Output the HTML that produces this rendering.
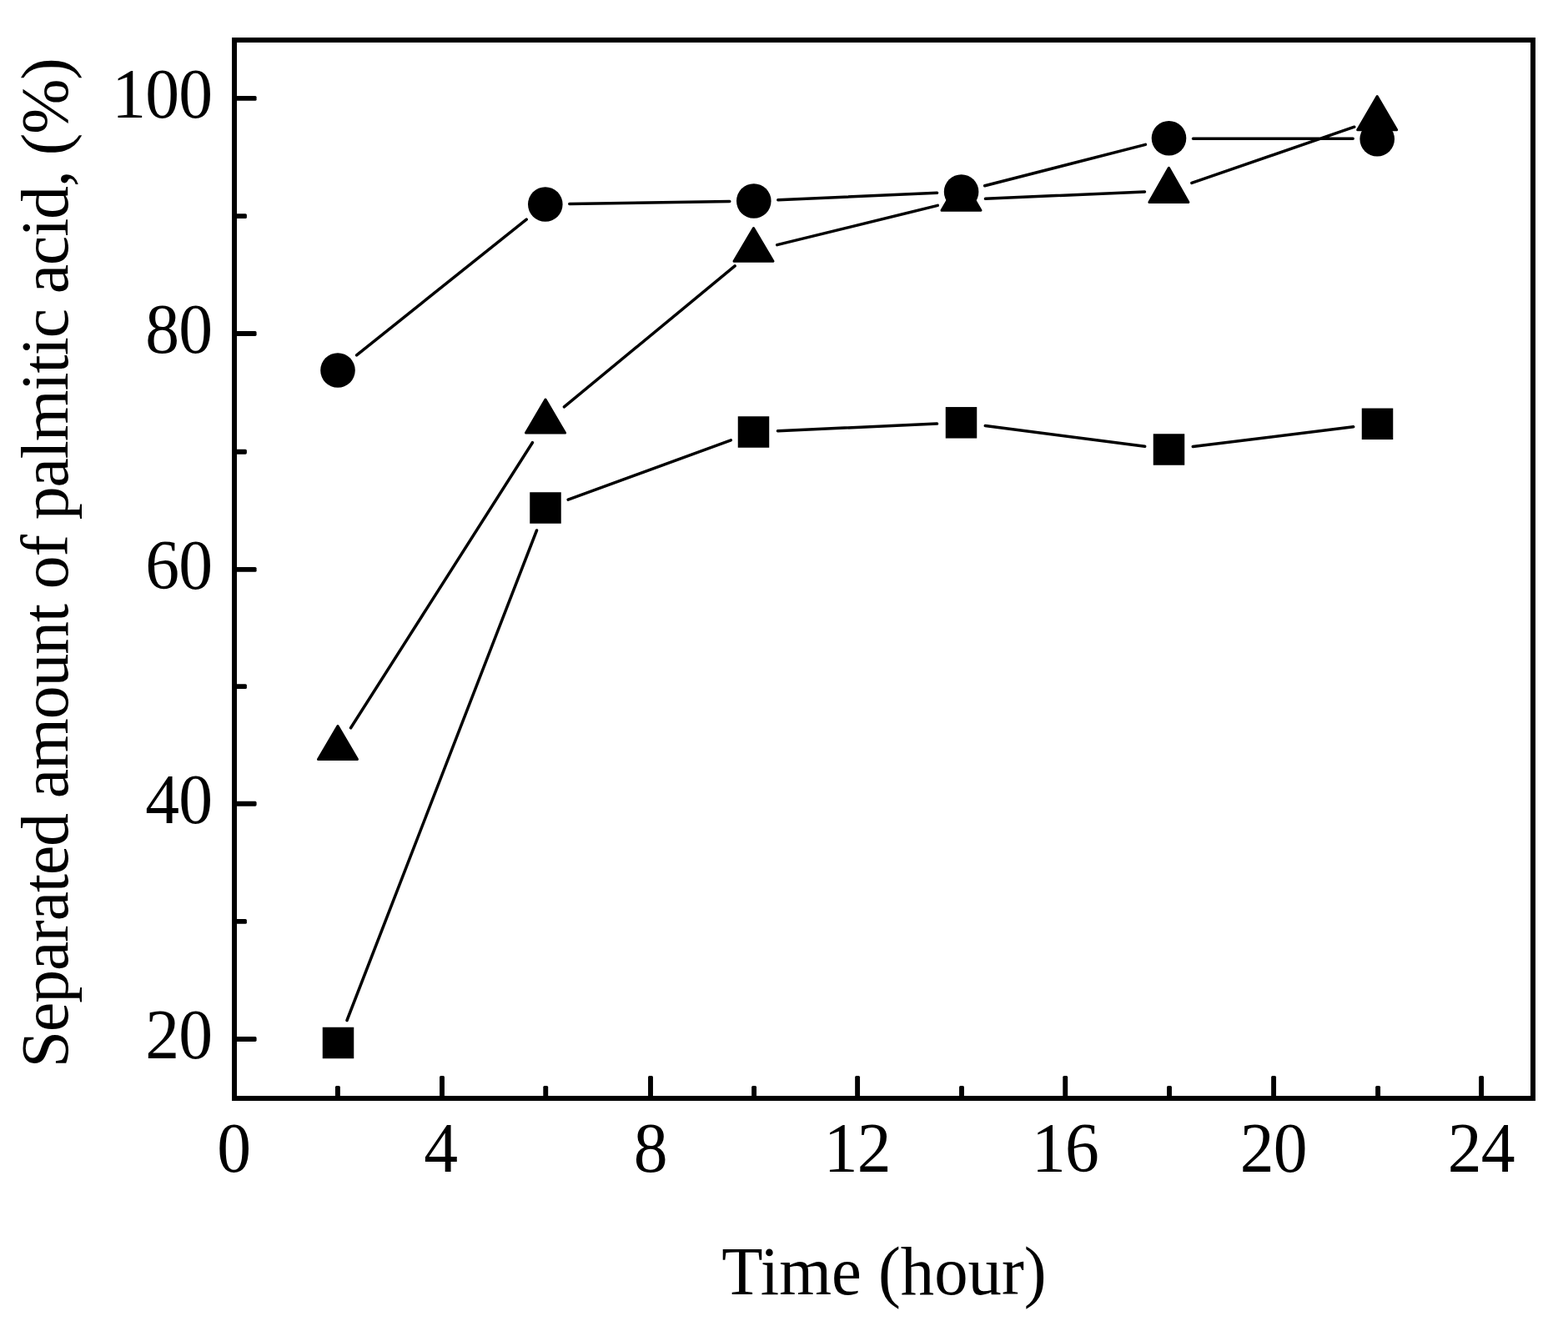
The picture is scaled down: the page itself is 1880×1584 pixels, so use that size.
<!DOCTYPE html>
<html lang="en"><head><meta charset="utf-8"><title>Separated amount of palmitic acid vs time</title>
<style>html,body{margin:0;padding:0;background:#fff}body{width:1880px;height:1584px;overflow:hidden}svg{display:block}text{font-family:"Liberation Serif",serif;fill:#000}</style>
</head><body>
<svg width="1880" height="1584" viewBox="0 0 1880 1584">
<rect x="0" y="0" width="1880" height="1584" fill="#fff"/>
<rect x="281.0" y="48.0" width="1557.0" height="1269.0" fill="none" stroke="#000" stroke-width="6" stroke-linejoin="miter"/>
<g fill="#000">
<rect x="281.0" y="114.95" width="26.6" height="5.9" rx="1.6"/>
<rect x="281.0" y="256.15" width="14.9" height="5.9" rx="1.6"/>
<rect x="281.0" y="397.05" width="26.6" height="5.9" rx="1.6"/>
<rect x="281.0" y="538.80" width="14.9" height="5.9" rx="1.6"/>
<rect x="281.0" y="679.95" width="26.6" height="5.9" rx="1.6"/>
<rect x="281.0" y="820.15" width="14.9" height="5.9" rx="1.6"/>
<rect x="281.0" y="960.80" width="26.6" height="5.9" rx="1.6"/>
<rect x="281.0" y="1101.95" width="14.9" height="5.9" rx="1.6"/>
<rect x="281.0" y="1243.05" width="26.6" height="5.9" rx="1.6"/>
<rect x="401.95" y="1301.9" width="5.9" height="15.1" rx="1.6"/>
<rect x="527.05" y="1289.9" width="5.9" height="27.1" rx="1.6"/>
<rect x="651.30" y="1301.9" width="5.9" height="15.1" rx="1.6"/>
<rect x="777.05" y="1289.9" width="5.9" height="27.1" rx="1.6"/>
<rect x="901.15" y="1301.9" width="5.9" height="15.1" rx="1.6"/>
<rect x="1025.15" y="1289.9" width="5.9" height="27.1" rx="1.6"/>
<rect x="1150.05" y="1301.9" width="5.9" height="15.1" rx="1.6"/>
<rect x="1274.30" y="1289.9" width="5.9" height="27.1" rx="1.6"/>
<rect x="1399.05" y="1301.9" width="5.9" height="15.1" rx="1.6"/>
<rect x="1524.15" y="1289.9" width="5.9" height="27.1" rx="1.6"/>
<rect x="1649.15" y="1301.9" width="5.9" height="15.1" rx="1.6"/>
<rect x="1773.15" y="1289.9" width="5.9" height="27.1" rx="1.6"/>
</g>
<path d="M416.0 1223.5L643.5 636.0M681.2 599.1L876.3 527.9M932.5 516.7L1123.5 508.1M1181.3 510.5L1372.7 535.3M1430.3 535.5L1622.7 511.8M420.6 872.8L638.4 530.7M676.4 487.8L881.1 318.9M931.7 293.6L1124.3 246.4M1181.5 238.3L1372.5 230.0M1428.9 219.4L1623.8 152.2M427.6 425.9L631.2 263.1M682.8 244.5L874.8 241.5M932.8 239.7L1123.6 231.3M1180.7 222.8L1373.4 173.4M1430.5 166.2L1622.2 166.3" fill="none" stroke="#000" stroke-width="3.5" stroke-linecap="round"/>
<g fill="#000" stroke="none">
<rect x="386.75" y="1231.75" width="37.5" height="37.5"/>
<rect x="635.25" y="590.25" width="37.5" height="37.5"/>
<rect x="884.75" y="499.25" width="37.5" height="37.5"/>
<rect x="1133.75" y="488.05" width="37.5" height="37.5"/>
<rect x="1382.75" y="520.25" width="37.5" height="37.5"/>
<rect x="1632.75" y="489.55" width="37.5" height="37.5"/>
<path d="M405.0 870.5L428.5 910.4H381.5Z" stroke="#000" stroke-width="3" stroke-linejoin="round"/>
<path d="M654.0 479.1L677.5 519.1H630.5Z" stroke="#000" stroke-width="3" stroke-linejoin="round"/>
<path d="M903.5 273.5L927.0 313.2H880.0Z" stroke="#000" stroke-width="3" stroke-linejoin="round"/>
<path d="M1152.5 212.1L1176.0 252.3H1129.0Z" stroke="#000" stroke-width="3" stroke-linejoin="round"/>
<path d="M1401.4 201.2L1424.9 242.5H1377.9Z" stroke="#000" stroke-width="3" stroke-linejoin="round"/>
<path d="M1651.2 115.5L1674.7 155.7H1627.7Z" stroke="#000" stroke-width="3" stroke-linejoin="round"/>
<circle cx="405" cy="444" r="20.8"/>
<circle cx="653.8" cy="245" r="20.8"/>
<circle cx="903.8" cy="241" r="20.8"/>
<circle cx="1152.6" cy="230" r="20.8"/>
<circle cx="1401.5" cy="165.7" r="20.8"/>
<circle cx="1651.2" cy="166.8" r="20.8"/>
</g>
<text transform="translate(254.30 1269.00) scale(0.961 1)" font-size="85.0" text-anchor="end" letter-spacing="-0.85">20</text>
<text transform="translate(254.30 986.75) scale(0.961 1)" font-size="85.0" text-anchor="end" letter-spacing="-0.85">40</text>
<text transform="translate(254.30 705.90) scale(0.961 1)" font-size="85.0" text-anchor="end" letter-spacing="-0.85">60</text>
<text transform="translate(254.30 423.00) scale(0.961 1)" font-size="85.0" text-anchor="end" letter-spacing="-0.85">80</text>
<text transform="translate(254.30 140.90) scale(0.961 1)" font-size="85.0" text-anchor="end" letter-spacing="-0.85">100</text>
<text transform="translate(280.30 1405.00) scale(0.961 1)" font-size="85.0" text-anchor="middle" letter-spacing="-0.85">0</text>
<text transform="translate(528.20 1405.00) scale(0.961 1)" font-size="85.0" text-anchor="middle" letter-spacing="-0.85">4</text>
<text transform="translate(779.70 1405.00) scale(0.961 1)" font-size="85.0" text-anchor="middle" letter-spacing="-0.85">8</text>
<text transform="translate(1027.80 1405.00) scale(0.961 1)" font-size="85.0" text-anchor="middle" letter-spacing="-0.85">12</text>
<text transform="translate(1276.95 1405.00) scale(0.961 1)" font-size="85.0" text-anchor="middle" letter-spacing="-0.85">16</text>
<text transform="translate(1526.80 1405.00) scale(0.961 1)" font-size="85.0" text-anchor="middle" letter-spacing="-0.85">20</text>
<text transform="translate(1775.80 1405.00) scale(0.961 1)" font-size="85.0" text-anchor="middle" letter-spacing="-0.85">24</text>
<text transform="translate(1060.00 1552.00) scale(0.9726 1)" font-size="83.0" text-anchor="middle">Time (hour)</text>
<text transform="translate(80.80 675.20) rotate(-90) scale(1.0 1)" font-size="79.5" text-anchor="middle" letter-spacing="-1.04">Separated amount of palmitic acid, (%)</text>
</svg></body></html>
